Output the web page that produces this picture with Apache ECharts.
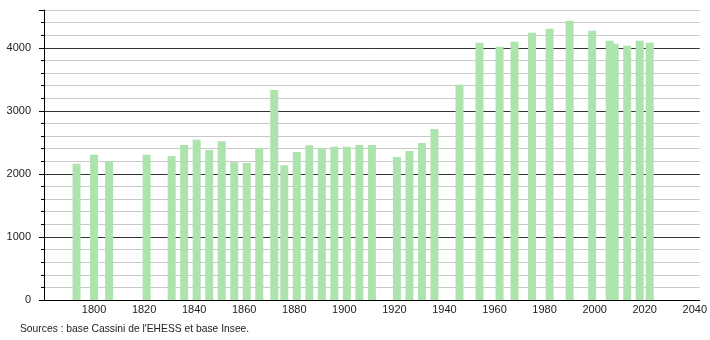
<!DOCTYPE html>
<html><head><meta charset="utf-8">
<script src="https://cdn.jsdelivr.net/npm/echarts@6/dist/echarts.min.js"></script>
<style>html,body{margin:0;padding:0;background:#fff}#c{width:710px;height:340px}</style>
</head><body><div id="c"></div>
<script>
var years = [1793,1800,1806,1821,1831,1836,1841,1846,1851,1856,1861,1866,1872,1876,1881,1886,1891,1896,1901,1906,1911,1921,1926,1931,1936,1946,1954,1962,1968,1975,1982,1990,1999,2006,2008,2013,2018,2022];
var population = [2160,2302,2206,2302,2286,2460,2540,2381,2519,2185,2175,2413,3333,2138,2349,2455,2413,2429,2429,2460,2460,2270,2365,2492,2714,3413,4079,4016,4095,4238,4302,4429,4270,4111,4063,4032,4111,4079];
var yMajorTicks = [0,1000,2000,3000,4000];
var xTickLabels = [1800,1820,1840,1860,1880,1900,1920,1940,1960,1980,2000,2020,2040];
var sourceText = "Sources : base Cassini de l'EHESS et base Insee.";

var chart = echarts.init(document.getElementById('c'), null, {renderer:'canvas'});
var font = 'Liberation Sans, Arial, sans-serif';
chart.setOption({
  animation:false,
  grid:{left:44,right:9,top:10,bottom:40},
  xAxis:{type:'value',min:1780,max:2042,interval:20,
    axisLine:{show:true,onZero:false,lineStyle:{color:'#000',width:1}},
    axisTick:{show:false},splitLine:{show:false},
    axisLabel:{color:'#222',fontSize:11,fontFamily:font,margin:4,
      formatter:function(v){return xTickLabels.indexOf(v)>=0?String(v):'';},
      showMinLabel:true,showMaxLabel:true}},
  yAxis:[
    {type:'value',min:0,max:4600,interval:200,
     axisLine:{show:true,lineStyle:{color:'#000'}},
     axisTick:{show:true,length:3,lineStyle:{color:'#000'}},
     axisLabel:{show:false},
     splitLine:{show:true,lineStyle:{color:['#333','#c8c8c8','#c8c8c8','#c8c8c8','#c8c8c8'],width:1}}},
    {type:'value',min:0,max:4600,interval:1000,position:'left',
     axisLine:{show:false},
     axisTick:{show:true,length:5,lineStyle:{color:'#000'}},
     splitLine:{show:false},
     axisLabel:{color:'#222',fontSize:11,fontFamily:font,margin:13,
       formatter:function(v){return yMajorTicks.indexOf(v)>=0?String(v):'';}}}
  ],
  series:[{type:'bar',yAxisIndex:0,barWidth:8,
    itemStyle:{color:'#ade3ad'},
    data:years.map(function(y,i){return [y,population[i]];})}],
  graphic:[{type:'text',left:20,top:324,style:{text:sourceText,fill:'#222',font:'10.3px '+font}}]
});
</script></body></html>
